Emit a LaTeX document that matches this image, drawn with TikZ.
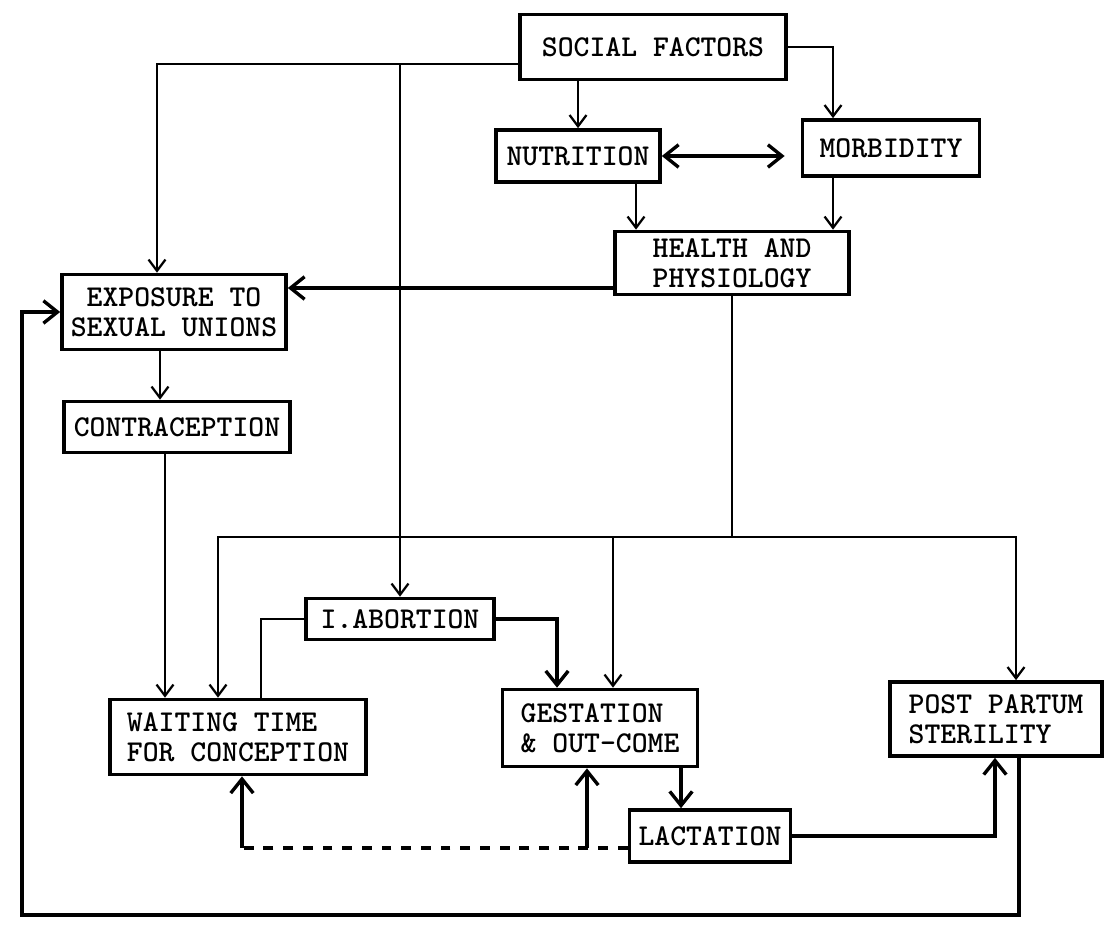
\documentclass[tikz,border=0pt]{standalone}
\usepackage{fontspec}
\usepackage{tikz}
\usetikzlibrary{shapes,arrows.meta}
\newcommand{\pxu}{0.025cm}
\tikzstyle{box} = [draw, line width=2.6pt, font=\ttfamily\bfseries\fontsize{21.5}{21}\selectfont, inner sep=2pt]
\tikzstyle{link} = [line width=1.6pt, >={Straight Barb[length=8pt,width=12pt]}]
\tikzstyle{heavy} = [line width=2.4pt, >={Straight Barb[length=10pt,width=16pt]}]
\tikzstyle{brokenline} = [dash pattern=on 7pt off 7pt]

\begin{document}
\begin{tikzpicture}[x=\pxu,y=-\pxu]

\useasboundingbox (0,0) rectangle (1109,940);

\node[box, minimum width=266*\pxu, minimum height=65*\pxu] (social) at (653,47) {SOCIAL FACTORS};
\node[box, minimum width=164*\pxu, minimum height=52*\pxu] (nutri) at (578,156) {NUTRITION};
\node[box, minimum width=177*\pxu, minimum height=56*\pxu] (morb) at (891,148) {MORBIDITY};
\node[box, minimum width=234*\pxu, minimum height=63*\pxu, align=center] (health) at (732,263) {HEALTH AND\\PHYSIOLOGY};
\node[box, minimum width=224*\pxu, minimum height=75*\pxu, align=center] (expo) at (174,312) {EXPOSURE TO\\SEXUAL UNIONS};
\node[box, minimum width=226*\pxu, minimum height=51*\pxu] (contra) at (177,427) {CONTRACEPTION};
\node[box, minimum width=188*\pxu, minimum height=41*\pxu] (abort) at (400,619) {I.ABORTION};
\node[box, minimum width=256*\pxu, minimum height=75*\pxu, align=left] (wait) at (238,737) {WAITING TIME\\FOR CONCEPTION};
\node[box, minimum width=195*\pxu, minimum height=77*\pxu, align=left] (gest) at (600,728) {GESTATION\\\& OUT-COME};
\node[box, minimum width=212*\pxu, minimum height=74*\pxu, align=left] (post) at (996,719) {POST PARTUM\\STERILITY};
\node[box, minimum width=161*\pxu, minimum height=52*\pxu] (lact) at (710,836) {LACTATION};

% helper points for the routing
\coordinate (tl) at (157,64);
\coordinate (mx) at (833,0);
\coordinate (nx) at (636,0);
\coordinate (hx) at (0,288);
\coordinate (ex) at (160,0);
\coordinate (cx) at (165,0);
\coordinate (bus) at (0,537);
\coordinate (wl) at (218,0);
\coordinate (gx) at (613,0);
\coordinate (pr) at (1016,0);
\coordinate (ax) at (261,0);
\coordinate (bx) at (557,0);
\coordinate (lx) at (681,0);
\coordinate (sx) at (995,0);
\coordinate (rx) at (1019,0);
\coordinate (bot) at (22,915);
\coordinate (dl) at (0,848);
\coordinate (gb) at (587,0);
\coordinate (wb) at (242,0);

\draw[link,->] (social.west |- tl) -- (tl) -- (tl |- expo.north);
\draw[link,->] (tl -| abort.north) -- (abort.north);
\draw[link,->] (nutri.north |- social.south) -- (nutri.north);
\draw[link,->] (social.east) -| (mx |- morb.north);
\draw[heavy,<->,shorten >=0.4cm] (nutri.east) -- (nutri.east -| morb.west);
\draw[link,->] (nx |- nutri.south) -- (nx |- health.north);
\draw[link,->] (mx |- morb.south) -- (mx |- health.north);
\draw[heavy,->] (health.west |- hx) -- (expo.east |- hx);
\draw[link,->] (ex |- expo.south) -- (ex |- contra.north);
\draw[link,->] (cx |- contra.south) -- (cx |- wait.north);

\draw[link,->] (health.south) -- (health.south |- bus) -| (wl |- wait.north);
\draw[link,->] (health.south |- bus) -| (pr |- post.north);
\draw[link,->] (gx |- bus) -- (gx |- gest.north);

\draw[link] (abort.west) -| (ax |- wait.north);
\draw[heavy,->] (abort.east) -| (bx |- gest.north);
\draw[heavy,->] (lx |- gest.south) -- (lx |- lact.north);
\draw[heavy,->] (lact.east) -| (sx |- post.south);
\draw[heavy,->] (rx |- post.south) -- (rx |- bot) -- (bot) -- (bot |- expo.west) -- (expo.west);

\draw[heavy,brokenline] (lact.west |- dl) -- (gb |- dl) -- (wb |- dl);
\draw[heavy,->] (gb |- dl) -- (gb |- gest.south);
\draw[heavy,->] (wb |- dl) -- (wb |- wait.south);

\end{tikzpicture}
\end{document}
